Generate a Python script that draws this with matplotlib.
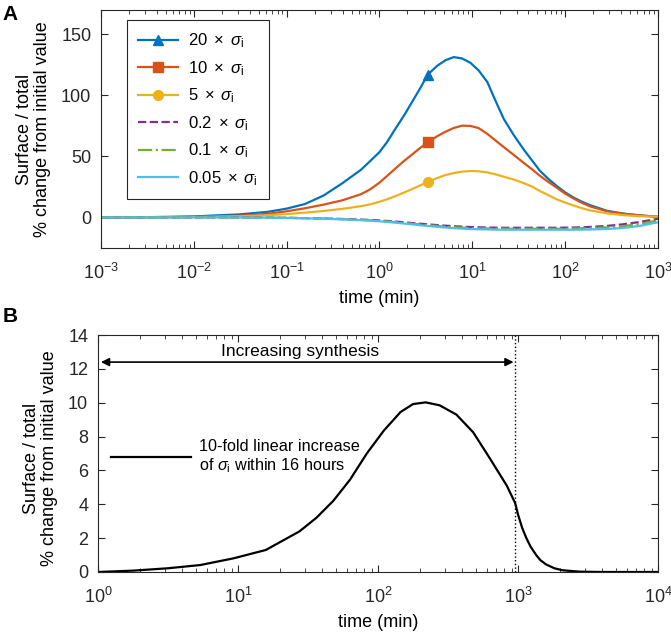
import matplotlib
matplotlib.use("Agg")
import matplotlib.pyplot as plt
from matplotlib.lines import Line2D

plt.rcParams['font.family'] = ['Liberation Sans', 'DejaVu Sans']
plt.rcParams['mathtext.fontset'] = 'custom'
plt.rcParams['mathtext.rm'] = 'Liberation Sans'
plt.rcParams['mathtext.it'] = 'Liberation Sans:italic'
plt.rcParams['mathtext.bf'] = 'Liberation Sans:bold'

# ---- panel A data ----
t_a = [0.001, 0.00316, 0.01, 0.0316, 0.0631, 0.1, 0.158, 0.251, 0.398, 0.631,
       0.794, 1.0, 1.2, 1.48, 1.82, 2.24, 2.75, 3.31, 4.17, 5.13,
       6.31, 7.76, 9.55, 11.7, 14.5, 17.8, 21.9, 28.2, 36.3, 44.7,
       53.7, 66.1, 81.3, 100, 123, 151, 186, 282, 427, 631, 1000]
s20 = [0, 0.2, 0.8, 2.5, 4.6, 7.2, 11, 18, 28, 39,
       46.2, 53.5, 61.5, 72.5, 83, 94.5, 106, 117, 124.2, 128.8,
       131.4, 130.3, 126.7, 120.5, 111, 95.5, 80.5, 67, 55, 46,
       38, 31.5, 25.7, 20.5, 16.3, 12.9, 10, 5.4, 3.1, 1.7, 0.5]
s10 = [0, 0.1, 0.4, 1.4, 3, 5, 7.5, 10.5, 14, 19,
       23, 28.5, 33.8, 40, 46, 51.5, 57, 61.5, 66.5, 70.2,
       73.3, 75.2, 75, 73.2, 68.5, 63, 57.5, 51, 44.3, 39,
       34, 29, 24.3, 19.5, 15.5, 12, 9, 5, 2.9, 1.6, 0.5]
s5 = [0, 0.05, 0.25, 0.9, 1.8, 2.7, 3.9, 5.3, 7.0, 9.2,
      10.7, 12.8, 14.8, 17.4, 20.2, 23.2, 26.2, 29, 32.2, 34.7,
      36.4, 37.5, 38, 37.8, 36.9, 35.3, 33.3, 31, 27.9, 25,
      21.6, 18.2, 14.8, 12.1, 9.8, 7.6, 5.7, 3.3, 1.8, 1.0, 0.5]
s02 = [0, 0, 0, -0.1, -0.2, -0.35, -0.6, -0.9, -1.3, -1.8,
       -2.1, -2.5, -2.9, -3.4, -4.0, -4.6, -5.2, -5.7, -6.3, -6.8,
       -7.2, -7.6, -7.9, -8.1, -8.3, -8.4, -8.5, -8.5, -8.5, -8.5,
       -8.5, -8.5, -8.5, -8.4, -8.3, -8.1, -7.8, -7.0, -5.6, -3.8, -1.1]
s01 = [0, 0, 0, -0.1, -0.22, -0.38, -0.65, -1.0, -1.45, -2.05,
       -2.4, -2.85, -3.3, -3.85, -4.5, -5.15, -5.8, -6.35, -7.0, -7.55,
       -8.0, -8.4, -8.7, -8.9, -9.1, -9.2, -9.3, -9.3, -9.3, -9.3,
       -9.3, -9.3, -9.3, -9.2, -9.1, -8.9, -8.7, -8.2, -7.1, -5.4, -2.4]
s005 = [0, 0, 0, -0.1, -0.25, -0.4, -0.7, -1.1, -1.6, -2.3,
        -2.7, -3.2, -3.7, -4.3, -5.0, -5.7, -6.4, -7.0, -7.7, -8.3,
        -8.8, -9.2, -9.5, -9.7, -9.9, -10.0, -10.1, -10.1, -10.1, -10.1,
        -10.1, -10.1, -10.1, -10.1, -10.1, -10.0, -9.9, -9.5, -8.6, -7.0, -4.0]
marker_idx = 17   # markers sit at t = 3.31 min

labels_a = [r'20$\,$ × $\,\sigma_\mathrm{i}$', r'10$\,$ × $\,\sigma_\mathrm{i}$',
            r'5$\,$ × $\,\sigma_\mathrm{i}$', r'0.2$\,$ × $\,\sigma_\mathrm{i}$',
            r'0.1$\,$ × $\,\sigma_\mathrm{i}$', r'0.05$\,$ × $\,\sigma_\mathrm{i}$']
xticks_a = [1e-3, 1e-2, 1e-1, 1e0, 1e1, 1e2, 1e3]

# ---- panel B data ----
t_b = [1, 1.78, 3.16, 5.37, 9.33, 15.8, 27.5, 36.3, 47.9, 63.1,
       83.2, 110, 145, 178, 219, 275, 363, 479, 631, 832,
       955, 1000, 1072, 1148, 1230, 1349, 1445, 1585, 1820, 2089,
       2754, 3981, 10000]
s_b = [0, 0.08, 0.22, 0.41, 0.81, 1.3, 2.4, 3.2, 4.2, 5.45,
       7.0, 8.35, 9.45, 9.92, 10.02, 9.85, 9.3, 8.25, 6.7, 5.1,
       4.07, 3.4, 2.6, 2.0, 1.5, 1.0, 0.7, 0.45, 0.22, 0.1,
       0.02, 0, 0]
label_b = '10-fold linear increase\nof $\\sigma_\\mathrm{i}$ within 16 hours'
t_stop = 960   # 16 hours
xticks_b = [1e0, 1e1, 1e2, 1e3, 1e4]

colors = ['#0072BD', '#D95319', '#EDB120', '#7E2F8E', '#77AC30', '#4DBEEE']
styles = ['-', '-', '-', '--', '-.', '-']
markers = ['^', 's', 'o', None, None, None]
dark = '#262626'

fig = plt.figure(figsize=(6.71, 6.34), dpi=100)
axA = fig.add_axes([0.1505, 0.609, 0.8301, 0.3752])
axB = fig.add_axes([0.146, 0.0978, 0.8346, 0.3738])

series = [s20, s10, s5, s02, s01, s005]
handles = []
for s, c, ls, m in zip(series, colors, styles, markers):
    axA.plot(t_a, s, color=c, ls=ls, lw=1.6)
    if m is not None:
        axA.plot([t_a[marker_idx]], [s[marker_idx]], marker=m, color=c, ms=7, ls='none')
    handles.append(Line2D([], [], color=c, ls=ls, lw=1.6, marker=m, ms=7))

axA.set_xscale('log')
axA.set_xticks(xticks_a)
axA.set_xlim(1e-3, 1e3)
axA.set_ylim(-25, 170)
axA.set_yticks([0, 50, 100, 150])
leg = axA.legend(handles, labels_a, loc='upper left', bbox_to_anchor=(0.047, 0.958),
                 borderaxespad=0, fontsize=12, handlelength=2.35, handletextpad=0.6,
                 labelspacing=0.53, fancybox=False, edgecolor=dark, framealpha=1,
                 borderpad=0.68)
leg.get_frame().set_linewidth(0.8)

axB.plot(t_b, s_b, color='black', lw=1.6, label=label_b)
axB.axvline(t_stop, color='black', ls=':', lw=1.0)
axB.annotate('', xy=(1.05, 12.4), xytext=(930, 12.4),
             arrowprops=dict(arrowstyle='<|-|>', color='black', lw=1.2,
                             mutation_scale=12, shrinkA=0, shrinkB=0))
axB.text(27.7, 13.0, 'Increasing synthesis', ha='center', va='center', fontsize=12.5)
axB.set_xscale('log')
axB.set_xticks(xticks_b)
axB.set_xlim(1, 1e4)
axB.set_ylim(0, 14)
axB.set_yticks(range(0, 15, 2))
axB.legend(loc='center left', bbox_to_anchor=(0.0116, 0.485), borderaxespad=0,
           frameon=False, fontsize=11.7, handlelength=4.9, handletextpad=0.5)

for ax in (axA, axB):
    ax.tick_params(which='both', direction='in', top=True, right=True, colors=dark,
                   labelsize=13, labelcolor=dark)
    ax.tick_params(which='major', length=5, width=0.8)
    ax.tick_params(which='minor', length=3, width=0.6)
    ax.tick_params(axis='x', pad=11)
    ax.tick_params(axis='y', pad=7)
    for sp in ax.spines.values():
        sp.set_color(dark)
        sp.set_linewidth(0.8)
    ax.set_xlabel('time (min)', fontsize=13, labelpad=5)

ylab = 'Surface / total\n% change from initial value'
axA.set_ylabel(ylab, fontsize=13, linespacing=1.1)
axB.set_ylabel(ylab, fontsize=13, linespacing=1.1)
axA.yaxis.set_label_coords(-0.089, 0.5)
axB.yaxis.set_label_coords(-0.071, 0.48)

fig.text(0.004, 0.992, 'A', fontsize=15, fontweight='bold', va='top', ha='left')
fig.text(0.004, 0.515, 'B', fontsize=15, fontweight='bold', va='top', ha='left')

fig.savefig('out.png', dpi=100)
